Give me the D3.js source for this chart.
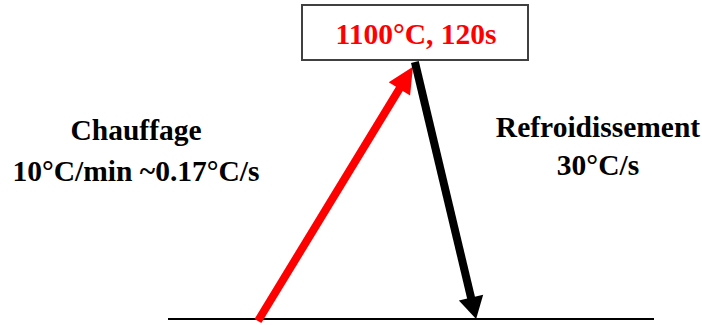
<!DOCTYPE html>
<html>
<head>
<meta charset="utf-8">
<script src="https://cdn.jsdelivr.net/npm/d3@7"></script>
<style>
  html, body { margin: 0; padding: 0; background: #fff; }
  svg { display: block; }
  text { font-family: "Liberation Serif", "Times New Roman", serif; font-weight: bold; }
</style>
</head>
<body>
<svg id="chart" width="702" height="325"></svg>
<script>
// ---- data ----
const stageNames = ["Chauffage", "Refroidissement"];
const stageRates = ["10°C/min ~0.17°C/s", "30°C/s"];
const peakLabel = "1100°C, 120s";
// heating segment (relative position along time axis, temperature °C)
const heatPos = [18.5, 50.4];
const heatTemp = [0, 1080];
// cooling segment
const coolPos = [50.8, 63.4];
const coolTemp = [1100, 0];
const axisDomain = [0, 100];
const tempDomain = [0, 1100];

// ---- scales ----
const svg = d3.select("#chart");
const x = d3.scaleLinear().domain(axisDomain).range([168, 654]);
const y = d3.scaleLinear().domain(tempDomain).range([319, 62]);

// baseline
svg.append("line")
  .attr("x1", x(axisDomain[0])).attr("x2", x(axisDomain[1]))
  .attr("y1", y(0)).attr("y2", y(0))
  .attr("stroke", "#000").attr("stroke-width", 2);

function arrow(xs, ts, color, headLen, headW, shaftW, startOffset) {
  const x0 = x(xs[0]), y0 = y(ts[0]) + (startOffset || 0);
  const x1 = x(xs[1]), y1 = y(ts[1]);
  const dx = x1 - x0, dy = y1 - y0;
  const L = Math.hypot(dx, dy);
  const ux = dx / L, uy = dy / L;
  const px = -uy, py = ux;
  const bx = x1 - ux * headLen, by = y1 - uy * headLen;
  svg.append("line")
    .attr("x1", x0).attr("y1", y0)
    .attr("x2", bx + ux * 2).attr("y2", by + uy * 2)
    .attr("stroke", color).attr("stroke-width", shaftW)
    .attr("stroke-linecap", "butt");
  svg.append("polygon")
    .attr("points", [
      [x1, y1],
      [bx + px * headW / 2, by + py * headW / 2],
      [bx - px * headW / 2, by - py * headW / 2]
    ].map(p => p.join(",")).join(" "))
    .attr("fill", color);
}

arrow(heatPos, heatTemp, "#ff0000", 26, 25, 8, 2);
arrow(coolPos, coolTemp, "#000000", 22, 25, 8, 0);

// peak box
const boxCx = 416;
svg.append("rect")
  .attr("x", 302).attr("y", 5).attr("width", 226).attr("height", 55)
  .attr("fill", "#fff").attr("stroke", "#404040").attr("stroke-width", 2);
svg.append("text")
  .attr("x", boxCx).attr("y", 44)
  .attr("text-anchor", "middle")
  .attr("font-size", 29.5)
  .attr("fill", "#ff0000")
  .text(peakLabel);

// stage labels
const labelPos = [
  { cx: 136, y1: 140, y2: 181 },
  { cx: 598, y1: 137, y2: 175 }
];
stageNames.forEach((name, i) => {
  const p = labelPos[i];
  svg.append("text")
    .attr("x", p.cx).attr("y", p.y1)
    .attr("text-anchor", "middle").attr("font-size", 29.5).attr("fill", "#000")
    .text(name);
  svg.append("text")
    .attr("x", p.cx).attr("y", p.y2)
    .attr("text-anchor", "middle").attr("font-size", 29.5).attr("fill", "#000")
    .text(stageRates[i]);
});
</script>
</body>
</html>
